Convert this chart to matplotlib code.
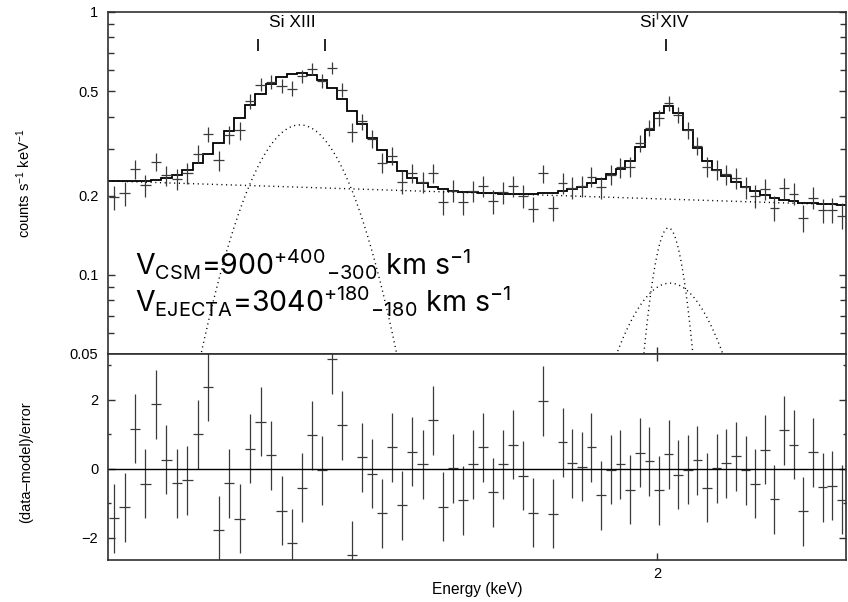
import numpy as np
import matplotlib
matplotlib.use('Agg')
import matplotlib.pyplot as plt
from matplotlib.ticker import FixedLocator, NullLocator, NullFormatter, FixedFormatter

plt.rcParams['font.family'] = ['Liberation Sans', 'DejaVu Sans']

# ---- data ----
energy = [1.78138, 1.78537, 1.78937, 1.79334, 1.79736, 1.80139, 1.80539, 1.80943, 1.81349, 1.81752,
          1.82159, 1.82567, 1.82972, 1.83383, 1.83794, 1.84202, 1.84615, 1.85028, 1.85423, 1.85819,
          1.86220, 1.86617, 1.87019, 1.87418, 1.87818, 1.88223, 1.88625, 1.89031, 1.89435, 1.89839,
          1.90248, 1.90654, 1.91065, 1.91473, 1.91882, 1.92295, 1.92706, 1.93121, 1.93533, 1.93946,
          1.94365, 1.94780, 1.95199, 1.95616, 1.96017, 1.96423, 1.96825, 1.97228, 1.97637, 1.98042,
          1.98448, 1.98854, 1.99266, 1.99674, 2.00083, 2.00498, 2.00908, 2.01320, 2.01732, 2.02150,
          2.02564, 2.02979, 2.03395, 2.03816, 2.04234, 2.04652, 2.05076, 2.05496, 2.05917, 2.06339,
          2.06766, 2.07190, 2.07614, 2.08044]

residual = [-1.43, -1.11, 1.16, -0.43, 1.87, 0.26, -0.41, -0.32, 1.01, 2.38,
            -1.78, -0.41, -1.45, 0.58, 1.37, 0.40, -1.21, -2.15, -0.54, 0.98,
            -0.04, 3.18, 1.26, -2.50, 0.34, -0.14, -1.29, 0.63, -1.05, 0.50,
            0.14, 1.41, -1.09, 0.02, -0.90, 0.14, 0.63, -0.68, 0.14, 0.70,
            -0.19, -1.27, 1.97, -1.30, 0.78, 0.17, 0.06, 0.63, -0.76, -0.02,
            0.14, -0.60, 0.47, 0.23, -0.61, 0.43, -0.17, -0.02, 0.25, -0.54,
            0.02, 0.17, 0.37, -0.04, -0.43, 0.55, -0.88, 1.12, 0.70, -1.23,
            0.49, -0.53, -0.48, -0.89]

# model components
cont_norm_2keV = 0.1947      # counts/s/keV at 2 keV
cont_index = 1.335
si13_broad = (1.8534, 0.0193, 0.372)    # centre keV, sigma keV, peak
si14_narrow = (2.0049, 0.00705, 0.151)
si14_broad = (2.0056, 0.0204, 0.093)
err_scale = 0.0438           # 1-sigma error ~ err_scale*sqrt(rate)

line_energies = [1.8369, 1.8633, 2.0039]
line_labels = [('Si XIII', 1.8503), ('Si XIV', 2.0030)]

xlim = (1.7791, 2.08225)

# ---- derived ----
E = np.array(energy)
R = np.array(residual)


def continuum(e):
    return cont_norm_2keV * (e / 2.0) ** (-cont_index)


def gauss(e, p):
    c, s, a = p
    return a * np.exp(-0.5 * ((e - c) / s) ** 2)


def total(e):
    return continuum(e) + gauss(e, si13_broad) + gauss(e, si14_narrow) + gauss(e, si14_broad)


edges = np.empty(len(E) + 1)
edges[1:-1] = 0.5 * (E[1:] + E[:-1])
edges[0] = E[0] - 0.5 * (E[1] - E[0])
edges[-1] = E[-1] + 0.5 * (E[-1] - E[-2])
xerr = np.vstack([E - edges[:-1], edges[1:] - E])

model = total(E)
err = err_scale * np.sqrt(model)
data = model + R * err

# ---- figure ----
fig = plt.figure(figsize=(8.48, 6.02), dpi=100)
ax1 = fig.add_axes([0.1274, 0.4120, 0.8702, 0.5681])
ax2 = fig.add_axes([0.1274, 0.0698, 0.8702, 0.3422], sharex=ax1)

dcol = '#3a3a3a'
dots = (0, (0.8, 2.6))

ax1.errorbar(E, data, yerr=err, xerr=xerr, fmt='none', ecolor=dcol, elinewidth=0.9, capsize=0)
ax1.stairs(model, edges, baseline=None, color='black', lw=1.3)

ef = np.linspace(xlim[0], xlim[1], 800)
ax1.plot(ef, continuum(ef), color='black', lw=1.0, ls=dots)
for p in (si13_broad, si14_narrow, si14_broad):
    ax1.plot(ef, gauss(ef, p), color='black', lw=1.0, ls=dots)

ax1.set_xscale('log')
ax1.set_yscale('log')
ax1.set_xlim(*xlim)
ax1.set_ylim(0.05, 1.0)
ax1.yaxis.set_major_locator(FixedLocator([0.05, 0.1, 0.2, 0.5, 1.0]))
ax1.yaxis.set_major_formatter(FixedFormatter(['0.05', '0.1', '0.2', '0.5', '1']))
ax1.yaxis.set_minor_locator(FixedLocator([0.06, 0.07, 0.08, 0.09, 0.3, 0.4, 0.6, 0.7, 0.8, 0.9]))
ax1.yaxis.set_minor_formatter(NullFormatter())

ax1.vlines(line_energies, 0.711, 0.789, color='black', lw=1.2)
for lab, e in line_labels:
    ax1.text(e, 0.915, lab, ha='center', va='center', fontsize=12.5)

ax1.text(0.0366, 0.231,
         r'V$\mathregular{_{CSM}}$=900$\mathregular{^{+400}{}_{-300}}$ km s$\mathregular{^{-1}}$',
         transform=ax1.transAxes, fontsize=20.5, family='Inter', va='baseline', ha='left')
ax1.text(0.0366, 0.1228,
         r'V$\mathregular{_{EJECTA}}$=3040$\mathregular{^{+180}{}_{-180}}$ km s$\mathregular{^{-1}}$',
         transform=ax1.transAxes, fontsize=20.5, family='Inter', va='baseline', ha='left')

ax1.set_ylabel(r'counts s$\mathregular{^{-1}}$ keV$\mathregular{^{-1}}$', fontsize=10.5)
ax1.yaxis.set_label_coords(-0.102, 0.5)

# residual panel
ax2.errorbar(E, R, yerr=np.ones_like(R), xerr=xerr, fmt='none', ecolor=dcol, elinewidth=0.9, capsize=0)
ax2.axhline(0, color='black', lw=1.0)
ax2.set_ylim(-2.638, 3.333)
ax2.yaxis.set_major_locator(FixedLocator([-2, 0, 2]))
ax2.yaxis.set_minor_locator(FixedLocator([-1, 1, 3]))
ax2.set_ylabel('(data\u2013model)/error', fontsize=10.5)
ax2.yaxis.set_label_coords(-0.102, 0.476)
ax2.set_xlabel('Energy (keV)', fontsize=11.2)
ax2.xaxis.set_label_coords(0.5, -0.105)

for ax in (ax1, ax2):
    ax.xaxis.set_major_locator(FixedLocator([2.0]))
    ax.xaxis.set_minor_locator(NullLocator())
    ax.xaxis.set_minor_formatter(NullFormatter())
    for s in ax.spines.values():
        s.set_linewidth(1.2)
        s.set_color('#303030')
    ax.tick_params(which='both', direction='in', top=True, right=True, labelsize=10.5,
                   color='#303030', width=1.0)
    ax.tick_params(which='major', length=5, pad=7)
    ax.tick_params(which='minor', length=4.5)
ax2.tick_params(which='minor', length=2.5)
ax2.xaxis.set_major_formatter(FixedFormatter(['2']))
ax1.tick_params(axis='x', labelbottom=False)
ax2.tick_params(axis='x', pad=5)

fig.savefig('out.png', dpi=100)
